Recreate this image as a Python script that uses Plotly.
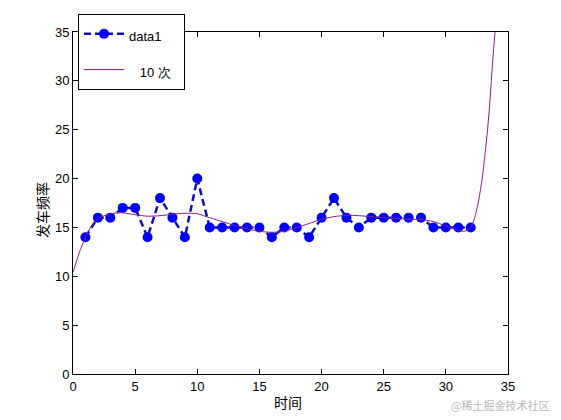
import plotly.graph_objects as go

# observed data (time vs departure frequency)
time_x = list(range(1, 33))
freq_y = [14, 16, 16, 17, 17, 14, 18, 16, 14, 20,
          15, 15, 15, 15, 15, 14, 15, 15, 14, 16,
          18, 16, 15, 16, 16, 16, 16, 16, 15, 15,
          15, 15]

# 10th-order fit curve
fit_x = [0, 0.5, 1, 1.5, 2, 3, 4, 5, 6, 7, 8, 9, 10, 11, 12, 13, 14, 15, 16, 17,
         18, 19, 20, 21, 22, 23, 24, 25, 26, 27, 28, 29, 30, 31, 31.5, 32, 32.3,
         32.6, 32.9, 33.15, 33.35, 33.55, 33.75, 33.95, 34.2]
fit_y = [10.4, 12.4, 14.0, 15.2, 15.9, 16.4, 16.5, 16.3, 16.15, 16.2, 16.35, 16.45,
         16.4, 16.0, 15.6, 15.2, 14.85, 14.6, 14.5, 14.6, 15.0, 15.4, 15.85, 16.1,
         16.25, 16.2, 16.1, 16.0, 15.9, 15.85, 15.8, 15.6, 15.15, 14.7, 14.6, 15.0,
         15.9, 17.5, 19.8, 22.5, 24.9, 28.0, 31.7, 34.9, 38.5]

tick_vals = [0, 5, 10, 15, 20, 25, 30, 35]
series_names = ["data1", "\u00a0\u00a0\u00a010 次\u00a0\u00a0"]
x_title = "时间"
y_title = "发车频率"

fig = go.Figure()
fig.add_trace(go.Scatter(
    x=time_x, y=freq_y, mode="lines+markers",
    name='<span style="font-size:13px">%s</span>' % series_names[0],
    line=dict(color="#1010b8", width=2.5, dash="7px,4px"),
    marker=dict(color="#0000ff", size=10, symbol="circle"),
    legendgroup="a",
))
fig.add_trace(go.Scatter(
    x=fit_x, y=fit_y, mode="lines",
    name='<span style="font-size:13px">%s</span>' % series_names[1],
    line=dict(color="#8a1a8a", width=1, shape="spline", smoothing=0.6),
    legendgroup="b",
))

axis_common = dict(
    range=[0, 35], tickvals=tick_vals, ticks="inside", ticklen=5,
    tickcolor="black", showline=True, linecolor="black", linewidth=1,
    mirror="ticks", showgrid=False, zeroline=False,
    tickfont=dict(family="Liberation Sans, Arial", size=13, color="black"),
)

title_font = dict(family="Noto Sans CJK SC", size=14, color="black")

fig.update_layout(
    width=545, height=404,
    margin=dict(l=65, r=45, t=24, b=38, autoexpand=False),
    paper_bgcolor="white", plot_bgcolor="white",
    xaxis=dict(**axis_common),
    yaxis=dict(**axis_common),
    legend=dict(
        xref="container", yref="container",
        x=70 / 545, y=1 - 6 / 404, xanchor="left", yanchor="top",
        bgcolor="white", bordercolor="black", borderwidth=1,
        font=dict(family="Liberation Sans, Arial", size=19, color="black"),
        traceorder="grouped", tracegroupgap=8,
        itemwidth=40,
    ),
    showlegend=True,
    annotations=[
        dict(text=x_title, x=0.5, y=0, xref="paper", yref="paper",
             xanchor="center", yanchor="middle", showarrow=False,
             xshift=-3, yshift=-28, font=title_font),
        dict(text=y_title, x=0, y=0.5, xref="paper", yref="paper",
             xanchor="center", yanchor="middle", showarrow=False,
             textangle=-90, xshift=-31, yshift=-7, font=title_font),
        dict(text="@稀土掘金技术社区", x=1.0, y=0.0, xref="paper", yref="paper",
             xanchor="right", yanchor="middle", showarrow=False, xshift=43, yshift=-31,
             font=dict(family="Noto Sans CJK SC", size=11, color="#b8b8b8")),
    ],
)

fig.write_html("out.html")
